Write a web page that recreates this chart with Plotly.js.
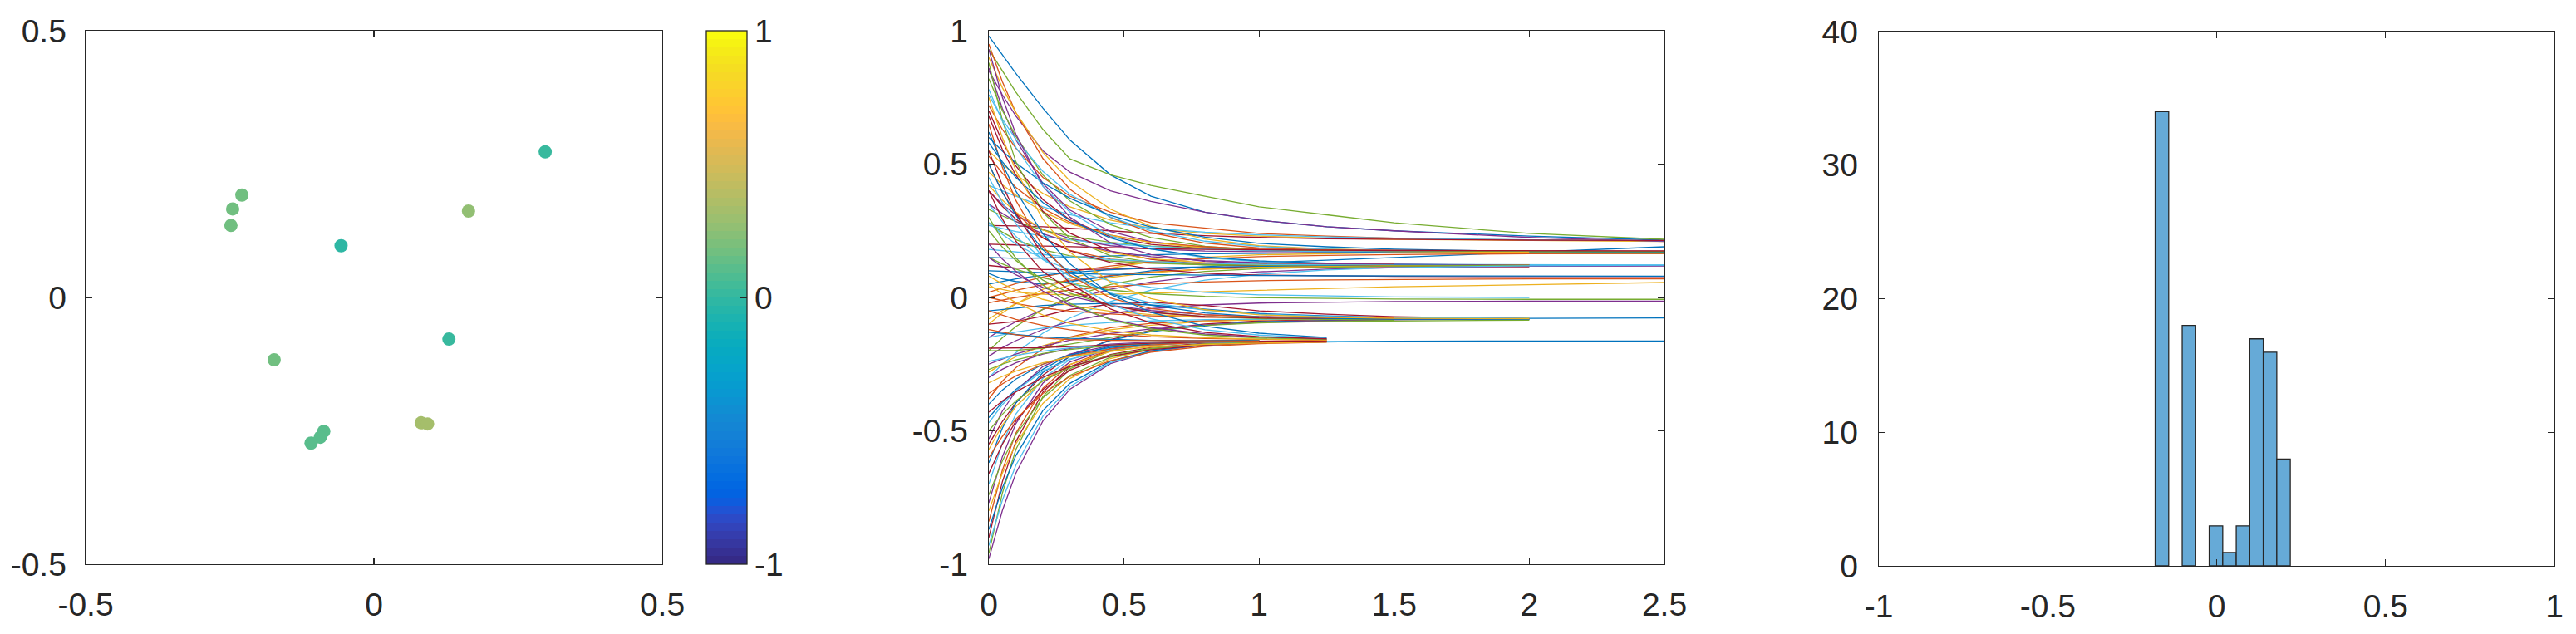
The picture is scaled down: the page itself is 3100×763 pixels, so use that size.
<!DOCTYPE html>
<html>
<head>
<meta charset="utf-8">
<script src="https://cdn.plot.ly/plotly-3.0.1.min.js"></script>
<style>html,body{margin:0;padding:0;background:#fff;}#chart{width:3100px;height:763px;}</style>
</head>
<body>
<div id="chart"></div>
<script>
// ---------- Panel 1: scatter (positions + colour values) ----------
const scatterX = [0.297, -0.229, -0.245, -0.248, 0.164, -0.057, 0.130, -0.173, -0.087, -0.093, -0.109, 0.082, 0.093];
const scatterY = [0.273, 0.192, 0.166, 0.135, 0.162, 0.097, -0.078, -0.117, -0.251, -0.262, -0.273, -0.235, -0.237];
const scatterC = [0.0, 0.16, 0.16, 0.17, 0.25, -0.02, 0.0, 0.18, 0.10, 0.10, 0.11, 0.32, 0.32];

// ---------- Panel 2: trajectories (time grid + series, grouped by final cluster) ----------
const timeGrid = [0, 0.05, 0.1, 0.2, 0.3, 0.45, 0.6, 0.8, 1.0, 1.25, 1.5, 2.0, 2.5];
const groupH = [
  [0.98, 0.91, 0.84, 0.71, 0.59, 0.46, 0.38, 0.32, 0.29, 0.265, 0.25, 0.23, 0.215],
  [0.72, 0.63, 0.56, 0.45, 0.38, 0.32, 0.28, 0.26, 0.24, 0.23, 0.222, 0.215, 0.212],
  [0.55, 0.50, 0.46, 0.39, 0.34, 0.29, 0.26, 0.24, 0.23, 0.222, 0.218, 0.214, 0.21],
  [0.85, 0.76, 0.68, 0.55, 0.47, 0.40, 0.36, 0.32, 0.29, 0.265, 0.25, 0.225, 0.21],
  [0.93, 0.85, 0.77, 0.63, 0.52, 0.46, 0.42, 0.38, 0.34, 0.31, 0.28, 0.24, 0.218],
  [0.42, 0.40, 0.38, 0.34, 0.31, 0.28, 0.26, 0.245, 0.235, 0.227, 0.222, 0.216, 0.213],
  [0.27, 0.27, 0.268, 0.265, 0.26, 0.25, 0.24, 0.232, 0.225, 0.22, 0.218, 0.215, 0.214],
  [0.09, 0.07, 0.06, 0.05, 0.06, 0.08, 0.10, 0.115, 0.13, 0.14, 0.15, 0.17, 0.19]
];
const groupG = [
  [0.95, 0.809, 0.693, 0.521, 0.406, 0.30, 0.243, 0.204, 0.186, 0.178, 0.174, 0.172],
  [0.9, 0.787, 0.693, 0.544, 0.437, 0.331, 0.267, 0.219, 0.194, 0.182, 0.176, 0.171, 0.169],
  [0.86, 0.709, 0.591, 0.427, 0.328, 0.247, 0.209, 0.187, 0.18, 0.177, 0.176, 0.175],
  [0.82, 0.701, 0.604, 0.459, 0.362, 0.273, 0.225, 0.192, 0.177, 0.171, 0.168, 0.166, 0.165],
  [0.76, 0.669, 0.593, 0.473, 0.387, 0.302, 0.25, 0.211, 0.191, 0.181, 0.175, 0.171],
  [0.7, 0.584, 0.493, 0.367, 0.291, 0.228, 0.199, 0.183, 0.177, 0.175, 0.174, 0.173, 0.173],
  [0.6, 0.549, 0.505, 0.43, 0.372, 0.308, 0.264, 0.226, 0.203, 0.19, 0.181, 0.172, 0.169],
  [0.53, 0.466, 0.413, 0.334, 0.282, 0.234, 0.207, 0.19, 0.181, 0.178, 0.176, 0.175],
  [0.47, 0.423, 0.384, 0.321, 0.277, 0.233, 0.206, 0.186, 0.176, 0.17, 0.167, 0.165],
  [0.4, 0.349, 0.31, 0.255, 0.221, 0.194, 0.182, 0.174, 0.172, 0.171, 0.17],
  [0.33, 0.306, 0.285, 0.253, 0.23, 0.207, 0.193, 0.183, 0.178, 0.175, 0.173, 0.172, 0.172],
  [0.27, 0.258, 0.247, 0.23, 0.216, 0.201, 0.191, 0.182, 0.176, 0.172, 0.17, 0.168],
  [0.2, 0.199, 0.197, 0.193, 0.19, 0.186, 0.183, 0.18, 0.178, 0.177, 0.176, 0.175, 0.175],
  [0.15, 0.148, 0.147, 0.148, 0.151, 0.156, 0.16, 0.164, 0.166, 0.168, 0.169, 0.17],
  [0.02, 0.037, 0.052, 0.077, 0.097, 0.118, 0.133, 0.145, 0.153, 0.158, 0.161, 0.164, 0.165],
  [-0.1, -0.058, -0.024, 0.031, 0.071, 0.11, 0.134, 0.151, 0.16, 0.165, 0.168, 0.17]
];
const groupF = [
  [0.93, 0.751, 0.612, 0.418, 0.301, 0.205, 0.161, 0.135, 0.126, 0.122, 0.121, 0.12],
  [0.88, 0.664, 0.509, 0.319, 0.221, 0.156, 0.132, 0.122, 0.119, 0.118, 0.118],
  [0.78, 0.661, 0.563, 0.417, 0.32, 0.231, 0.182, 0.149, 0.134, 0.127, 0.124, 0.122, 0.122],
  [0.68, 0.555, 0.458, 0.323, 0.241, 0.174, 0.143, 0.125, 0.119, 0.117, 0.116, 0.115],
  [0.58, 0.509, 0.45, 0.356, 0.289, 0.223, 0.182, 0.152, 0.137, 0.129, 0.124, 0.121],
  [0.5, 0.394, 0.317, 0.224, 0.176, 0.144, 0.132, 0.127, 0.125, 0.125, 0.125],
  [0.42, 0.365, 0.32, 0.254, 0.209, 0.168, 0.145, 0.13, 0.123, 0.12, 0.119, 0.118],
  [0.35, 0.315, 0.285, 0.239, 0.206, 0.173, 0.153, 0.138, 0.13, 0.126, 0.124, 0.122],
  [0.28, 0.245, 0.217, 0.179, 0.156, 0.137, 0.128, 0.123, 0.121, 0.12, 0.12],
  [0.18, 0.175, 0.17, 0.16, 0.152, 0.142, 0.135, 0.128, 0.124, 0.122, 0.121, 0.12, 0.12],
  [0.12, 0.115, 0.11, 0.105, 0.104, 0.106, 0.109, 0.113, 0.115, 0.116, 0.117, 0.118],
  [0.05, 0.061, 0.07, 0.084, 0.094, 0.104, 0.111, 0.115, 0.117, 0.119, 0.12, 0.12],
  [0.0, 0.014, 0.027, 0.048, 0.064, 0.082, 0.095, 0.106, 0.112, 0.116, 0.119, 0.121],
  [-0.08, -0.049, -0.023, 0.017, 0.046, 0.075, 0.093, 0.106, 0.113, 0.117, 0.119, 0.12],
  [-0.15, -0.118, -0.091, -0.045, -0.008, 0.031, 0.058, 0.082, 0.096, 0.106, 0.112, 0.117, 0.118],
  [-0.2, -0.151, -0.109, -0.044, 0.002, 0.049, 0.077, 0.098, 0.108, 0.114, 0.118, 0.12],
  [-0.3, -0.25, -0.207, -0.134, -0.077, -0.015, 0.028, 0.065, 0.087, 0.103, 0.112, 0.119, 0.121]
];
const groupE = [
  [0.4, 0.342, 0.294, 0.223, 0.175, 0.131, 0.107, 0.091, 0.084, 0.081, 0.079, 0.078, 0.078],
  [0.1, 0.098, 0.096, 0.093, 0.09, 0.087, 0.085, 0.083, 0.082, 0.081, 0.081, 0.08, 0.08],
  [-0.02, -0.009, 0.0, 0.015, 0.028, 0.041, 0.05, 0.058, 0.063, 0.066, 0.068, 0.07, 0.07]
];
const groupD = [
  [0.04, 0.03, 0.02, 0.012, 0.01, 0.012, 0.016, 0.022, 0.028, 0.034, 0.04, 0.048, 0.056]
];
const groupC = [
  [-0.22, -0.188, -0.162, -0.12, -0.09, -0.06, -0.042, -0.028, -0.021, -0.017, -0.015, -0.014, -0.014],
  [0.15, 0.126, 0.106, 0.074, 0.051, 0.028, 0.014, 0.004, -0.001, -0.004, -0.006, -0.007, -0.007],
  [0.28, 0.237, 0.201, 0.144, 0.103, 0.062, 0.038, 0.019, 0.01, 0.005, 0.002, 0.0]
];
const groupB = [
  [-0.55, -0.465, -0.395, -0.291, -0.221, -0.158, -0.123, -0.099, -0.088, -0.083, -0.081],
  [-0.45, -0.393, -0.345, -0.269, -0.215, -0.161, -0.128, -0.104, -0.091, -0.085, -0.081, -0.078, -0.077],
  [-0.38, -0.314, -0.263, -0.192, -0.148, -0.113, -0.097, -0.087, -0.084, -0.083, -0.082],
  [-0.28, -0.249, -0.222, -0.181, -0.151, -0.121, -0.104, -0.09, -0.083, -0.079, -0.077, -0.076],
  [-0.25, -0.23, -0.212, -0.183, -0.16, -0.135, -0.118, -0.103, -0.094, -0.088, -0.084, -0.08],
  [-0.2, -0.2, -0.198, -0.19, -0.175, -0.15, -0.125, -0.105, -0.095, -0.09, -0.088, -0.085],
  [-0.15, -0.139, -0.13, -0.115, -0.104, -0.094, -0.088, -0.083, -0.081, -0.08, -0.079],
  [-0.1, -0.095, -0.09, -0.07, -0.045, -0.025, -0.018, -0.03, -0.05, -0.063, -0.072, -0.08],
  [-0.05, -0.045, -0.04, -0.03, -0.025, -0.022, -0.028, -0.045, -0.06, -0.069, -0.075, -0.082],
  [0.0, -0.012, -0.023, -0.039, -0.051, -0.062, -0.069, -0.074, -0.077, -0.078, -0.079, -0.08],
  [0.08, 0.051, 0.028, -0.007, -0.03, -0.052, -0.064, -0.072, -0.075, -0.077, -0.078],
  [0.15, 0.115, 0.085, 0.038, 0.005, -0.029, -0.049, -0.064, -0.072, -0.076, -0.078, -0.08],
  [0.25, 0.189, 0.139, 0.065, 0.016, -0.03, -0.055, -0.071, -0.079, -0.083, -0.085],
  [0.35, 0.284, 0.229, 0.142, 0.08, 0.017, -0.02, -0.048, -0.063, -0.071, -0.075, -0.078],
  [0.4, 0.294, 0.211, 0.097, 0.027, -0.03, -0.056, -0.071, -0.077, -0.079, -0.08],
  [0.5, 0.395, 0.308, 0.179, 0.093, 0.014, -0.029, -0.058, -0.072, -0.078, -0.081, -0.082],
  [0.65, 0.489, 0.364, 0.19, 0.084, -0.002, -0.042, -0.065, -0.073, -0.076, -0.077],
  [0.75, 0.6, 0.476, 0.293, 0.17, 0.057, -0.004, -0.046, -0.065, -0.074, -0.078, -0.08]
];
const groupA = [
  [-0.98, -0.799, -0.659, -0.463, -0.344, -0.248, -0.203, -0.177, -0.168, -0.165],
  [-0.96, -0.734, -0.57, -0.371, -0.268, -0.2, -0.174, -0.164, -0.161],
  [-0.93, -0.76, -0.629, -0.445, -0.334, -0.244, -0.201, -0.177, -0.168, -0.165, -0.165, -0.165, -0.165],
  [-0.9, -0.691, -0.54, -0.355, -0.26, -0.197, -0.173, -0.164, -0.161],
  [-0.87, -0.714, -0.593, -0.424, -0.322, -0.239, -0.2, -0.178, -0.17, -0.166, -0.164, -0.163, -0.163],
  [-0.84, -0.648, -0.509, -0.34, -0.252, -0.194, -0.172, -0.163],
  [-0.8, -0.659, -0.549, -0.397, -0.304, -0.229, -0.194, -0.173, -0.166],
  [-0.77, -0.597, -0.473, -0.321, -0.242, -0.191, -0.171, -0.163, -0.161],
  [-0.74, -0.613, -0.514, -0.376, -0.292, -0.224, -0.193, -0.174, -0.168, -0.165],
  [-0.7, -0.547, -0.437, -0.303, -0.233, -0.187, -0.17, -0.163],
  [-0.66, -0.55, -0.464, -0.345, -0.273, -0.214, -0.187, -0.171, -0.165],
  [-0.62, -0.49, -0.396, -0.281, -0.222, -0.183, -0.168, -0.162, -0.16],
  [-0.6, -0.521, -0.456, -0.36, -0.296, -0.237, -0.205, -0.183, -0.173, -0.168],
  [-0.57, -0.479, -0.409, -0.311, -0.251, -0.203, -0.181, -0.167, -0.163],
  [-0.53, -0.426, -0.351, -0.259, -0.212, -0.18, -0.169, -0.164],
  [-0.5, -0.438, -0.388, -0.313, -0.262, -0.216, -0.191, -0.174, -0.166, -0.163],
  [-0.47, -0.402, -0.349, -0.276, -0.231, -0.195, -0.178, -0.169, -0.165],
  [-0.43, -0.388, -0.354, -0.299, -0.259, -0.22, -0.196, -0.179, -0.17, -0.166],
  [-0.4, -0.347, -0.306, -0.25, -0.215, -0.187, -0.174, -0.166, -0.164],
  [-0.36, -0.324, -0.294, -0.25, -0.22, -0.193, -0.178, -0.168, -0.164],
  [-0.32, -0.296, -0.276, -0.245, -0.222, -0.2, -0.186, -0.176, -0.171, -0.167],
  [-0.3, -0.269, -0.245, -0.212, -0.191, -0.175, -0.167, -0.163],
  [-0.27, -0.25, -0.234, -0.21, -0.195, -0.18, -0.172, -0.166, -0.164],
  [-0.24, -0.228, -0.217, -0.201, -0.189, -0.178, -0.171, -0.166, -0.163],
  [-0.19, -0.19, -0.19, -0.188, -0.184, -0.178, -0.172, -0.167, -0.164, -0.163],
  [-0.13, -0.135, -0.14, -0.148, -0.153, -0.158, -0.161, -0.162, -0.163],
  [-0.05, -0.067, -0.082, -0.105, -0.121, -0.137, -0.147, -0.154, -0.158, -0.161],
  [0.05, 0.012, -0.019, -0.066, -0.097, -0.125, -0.141, -0.151, -0.156, -0.159],
  [0.2, 0.144, 0.098, 0.024, -0.029, -0.081, -0.113, -0.137, -0.149, -0.156],
  [0.3, 0.217, 0.148, 0.047, -0.022, -0.084, -0.118, -0.141, -0.152, -0.157],
  [0.45, 0.356, 0.277, 0.151, 0.063, -0.026, -0.08, -0.121, -0.141, -0.153],
  [0.55, 0.421, 0.316, 0.159, 0.054, -0.043, -0.095, -0.131, -0.147, -0.155],
  [0.62, 0.5, 0.399, 0.239, 0.126, 0.012, -0.056, -0.108, -0.134, -0.15],
  [-0.12, -0.13, -0.14, -0.152, -0.158, -0.161, -0.162, -0.163, -0.163]
];

// ---------- Panel 3: histogram of final values ----------
const histLeftEdges = [-0.182, -0.102, -0.022, 0.018, 0.058, 0.098, 0.138, 0.178];
const histCounts = [34, 18, 3, 1, 3, 17, 16, 8];
const histBinWidth = 0.04;

// ---------- ticks ----------
const ticksHalf = [-0.5, 0, 0.5];
const ticksHalfText = ['-0.5', '0', '0.5'];
const ticksTimeX = [0, 0.5, 1, 1.5, 2, 2.5];
const ticksTimeXText = ['0', '0.5', '1', '1.5', '2', '2.5'];
const ticksUnit = [-1, -0.5, 0, 0.5, 1];
const ticksUnitText = ['-1', '-0.5', '0', '0.5', '1'];
const ticksCount = [0, 10, 20, 30, 40];
const ticksCountText = ['0', '10', '20', '30', '40'];
const ticksCbar = [-1, 0, 1];
const ticksCbarText = ['-1', '0', '1'];

// ---------- style ----------
const lineColors = ['#0072BD', '#D95319', '#EDB120', '#7E2F8E', '#77AC30', '#4DBEEE', '#A2142F'];
const parula = [
 [53,42,135],[54,48,147],[54,55,160],[53,61,173],[50,67,186],[44,74,199],[32,83,212],[15,92,221],
 [3,99,225],[2,104,225],[4,109,224],[8,113,222],[13,117,220],[16,121,218],[18,125,216],[20,129,214],
 [20,133,212],[19,137,211],[16,142,210],[12,147,210],[9,152,209],[7,156,207],[6,160,205],[6,164,202],
 [6,167,198],[7,169,194],[10,172,190],[15,174,185],[21,177,180],[29,179,175],[37,181,169],[46,183,164],
 [56,185,158],[66,187,152],[77,188,146],[89,189,140],[101,190,134],[113,191,128],[124,191,123],[135,191,119],
 [146,191,115],[156,191,111],[165,190,107],[174,190,103],[183,189,100],[192,188,96],[200,188,93],[209,187,89],
 [217,186,86],[225,185,82],[233,185,78],[241,185,74],[248,187,68],[253,190,61],[255,195,55],[254,200,50],
 [252,206,46],[250,211,42],[247,216,38],[245,222,33],[245,228,29],[245,235,24],[246,243,19],[249,251,14]
];
const stepScale = [];
parula.forEach((c, i) => {
  const col = 'rgb(' + c.join(',') + ')';
  stepScale.push([i / parula.length, col]);
  stepScale.push([(i + 1) / parula.length, col]);
});

const W = 3100, H = 763;
const ink = '#262626';
const fontFam = 'Liberation Sans, Arial, Helvetica, sans-serif';
const fs = 39;

function axisBase(extra) {
  return Object.assign({
    showline: true, mirror: 'ticks', linecolor: ink, linewidth: 1.3,
    ticks: 'inside', ticklen: 8, tickwidth: 1.3, tickcolor: ink,
    showgrid: false, zeroline: false, fixedrange: true,
    tickfont: {family: fontFam, size: fs, color: ink}
  }, extra);
}

const traces = [];
// scatter panel
traces.push({
  type: 'scatter', mode: 'markers', x: scatterX, y: scatterY, xaxis: 'x', yaxis: 'y',
  marker: {
    size: 16, color: scatterC, cmin: -1, cmax: 1, colorscale: stepScale, showscale: true,
    line: {width: 0},
    colorbar: {
      x: 850 / W, xanchor: 'left', xpad: 0, ypad: 0,
      y: (H - 358) / H, yanchor: 'middle', len: 642, lenmode: 'pixels',
      thickness: 49, thicknessmode: 'pixels',
      outlinecolor: ink, outlinewidth: 1.3,
      tickmode: 'array', tickvals: ticksCbar, ticktext: ticksCbarText,
      ticks: 'inside', ticklen: 8, tickcolor: ink, tickwidth: 1.3,
      tickfont: {family: fontFam, size: fs, color: ink}
    }
  },
  hoverinfo: 'skip', showlegend: false
});
// trajectories
const allSeries = [].concat(groupH, groupG, groupF, groupE, groupD, groupC, groupB, groupA);
allSeries.forEach((ys, i) => {
  traces.push({
    type: 'scatter', mode: 'lines', x: timeGrid.slice(0, ys.length), y: ys,
    xaxis: 'x2', yaxis: 'y2',
    line: {color: lineColors[i % lineColors.length], width: 1.3},
    hoverinfo: 'skip', showlegend: false
  });
});
// histogram
traces.push({
  type: 'bar', x: histLeftEdges, y: histCounts, width: histBinWidth, offset: 0,
  xaxis: 'x3', yaxis: 'y3',
  marker: {color: 'rgb(102,170,215)', line: {color: ink, width: 1.3}},
  hoverinfo: 'skip', showlegend: false
});

const yDom = [(H - 679) / H, (H - 37) / H];
const layout = {
  width: W, height: H,
  margin: {l: 0, r: 0, t: 0, b: 0, pad: 0},
  paper_bgcolor: '#ffffff', plot_bgcolor: '#ffffff',
  font: {family: fontFam, size: fs, color: ink},
  showlegend: false,
  xaxis: axisBase({domain: [103 / W, 797 / W], range: [-0.5, 0.5], anchor: 'y',
    tickmode: 'array', tickvals: ticksHalf, ticktext: ticksHalfText, ticklabelstandoff: 14}),
  yaxis: axisBase({domain: yDom, range: [-0.5, 0.5], anchor: 'x',
    tickmode: 'array', tickvals: ticksHalf, ticktext: ticksHalfText, ticklabelstandoff: 14}),
  xaxis2: axisBase({domain: [1190 / W, 2003 / W], range: [0, 2.5], anchor: 'y2',
    tickmode: 'array', tickvals: ticksTimeX, ticktext: ticksTimeXText, ticklabelstandoff: 14}),
  yaxis2: axisBase({domain: yDom, range: [-1, 1], anchor: 'x2',
    tickmode: 'array', tickvals: ticksUnit, ticktext: ticksUnitText, ticklabelstandoff: 16}),
  xaxis3: axisBase({domain: [2261 / W, 3074 / W], range: [-1, 1], anchor: 'y3',
    tickmode: 'array', tickvals: ticksUnit, ticktext: ticksUnitText, ticklabelstandoff: 14}),
  yaxis3: axisBase({domain: [(H - 681) / H, (H - 38) / H], range: [0, 40], anchor: 'x3',
    tickmode: 'array', tickvals: ticksCount, ticktext: ticksCountText, ticklabelstandoff: 16}),
  bargap: 0
};

Plotly.newPlot('chart', traces, layout, {staticPlot: true, displayModeBar: false});
</script>
</body>
</html>
